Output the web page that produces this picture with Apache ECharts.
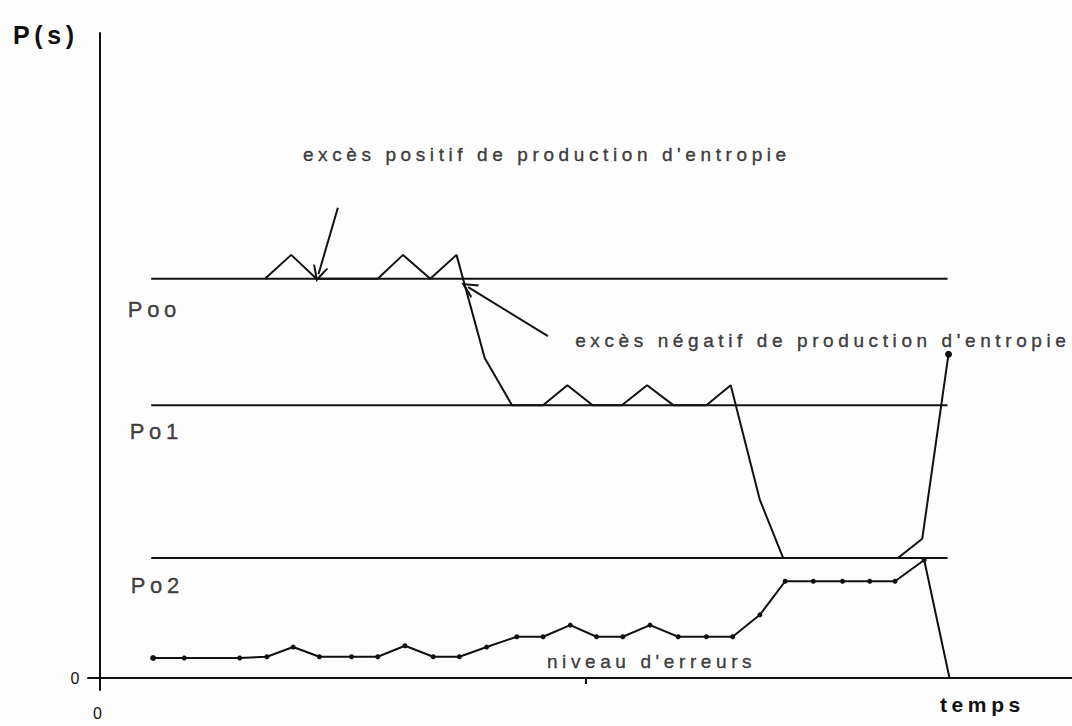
<!DOCTYPE html>
<html>
<head>
<meta charset="utf-8">
<title>P(s)</title>
<script src="https://cdn.jsdelivr.net/npm/echarts@6/dist/echarts.min.js"></script>
<style>
  html, body { margin: 0; padding: 0; background: #fff; }
  #chart { width: 1072px; height: 726px; }
  /* the scanned figure uses wide tracking on every text */
  #chart text { letter-spacing: 4.6px; }
</style>
</head>
<body>
<div id="chart"></div>
<script>
// reference levels
const levelNames = ["Poo", "Po1", "Po2"];
const levelValues = [61.9, 42.3, 18.6];
const levelStart = 5.3;
const levelEnd = 87.2;

// trajectory of P(s)
const pathX = [17.0, 19.7, 22.3, 28.6, 31.2, 34.0, 36.7, 39.6, 42.4, 45.6, 48.1, 50.7, 53.7, 56.3, 59.0, 62.4, 64.9, 67.9, 70.3, 82.1, 84.6, 87.3];
const pathY = [61.9, 65.6, 61.9, 61.9, 65.6, 61.9, 65.6, 49.6, 42.3, 42.3, 45.4, 42.3, 42.3, 45.4, 42.3, 42.3, 45.4, 27.6, 18.6, 18.6, 21.6, 50.2];

// niveau d'erreurs
const errX = [5.5, 8.7, 14.4, 17.2, 19.9, 22.6, 25.9, 28.6, 31.4, 34.3, 37.0, 39.8, 42.9, 45.6, 48.4, 51.1, 53.8, 56.6, 59.5, 62.4, 65.1, 67.9, 70.5, 73.4, 76.4, 79.2, 81.8, 84.8, 87.4];
const errY = [3.1, 3.1, 3.1, 3.3, 4.8, 3.3, 3.3, 3.3, 5.0, 3.3, 3.3, 4.8, 6.4, 6.4, 8.2, 6.4, 6.4, 8.2, 6.4, 6.4, 6.4, 9.8, 15.0, 15.0, 15.0, 15.0, 15.0, 18.3, 0];

// arrows [from, to]
const arrowPositif = [[24.5, 72.9], [22.5, 62.6]];
const arrowNegatif = [[46.1, 53.0], [37.9, 60.6]];

// annotation texts
const noteTexts = ["excès positif de production d'entropie", "excès négatif de production d'entropie", "niveau d'erreurs"];
const noteX = [20.9, 48.9, 46.0];
const noteY = [81.2, 52.3, 2.5];
const levelLabelX = [2.9, 3.1, 3.2];
const levelLabelY = [57.2, 38.2, 14.4];

const ink = "#111";
const font = "'Liberation Sans', Arial, sans-serif";

const chart = echarts.init(document.getElementById("chart"), null, { renderer: "svg" });

const levelSeries = levelValues.map((v, i) => ({
  name: levelNames[i],
  type: "line",
  data: [[levelStart, v], [levelEnd, v]],
  symbol: "none",
  lineStyle: { color: ink, width: 2 },
  silent: true,
}));

const pathData = pathX.map((x, i) => {
  const last = i === pathX.length - 1;
  return { value: [x, pathY[i]], symbol: last ? "circle" : "none", symbolSize: 7 };
});

const errData = errX.map((x, i) => {
  const last = i === errX.length - 1;
  return { value: [x, errY[i]], symbol: last ? "none" : "circle", symbolSize: i === 0 ? 6 : 5 };
});

const noteData = noteTexts.map((t, i) => ({
  value: [noteX[i], noteY[i]],
  name: t,
  label: { fontSize: 19 },
})).concat(levelNames.map((t, i) => ({
  value: [levelLabelX[i], levelLabelY[i]],
  name: t,
  label: { fontSize: 22 },
})));

const option = {
  backgroundColor: "#fdfdfd",
  animation: false,
  textStyle: { fontFamily: font, color: ink },
  grid: { left: 88, right: 0, top: 33, bottom: 36, containLabel: false, outerBoundsMode: "none" },
  xAxis: {
    type: "value",
    min: -1.2,
    max: 100,
    axisLine: { onZero: true, lineStyle: { color: ink, width: 2 } },
    axisTick: { show: true, customValues: [50], length: 6, lineStyle: { color: ink, width: 2 } },
    axisLabel: { customValues: [0], margin: 15, fontSize: 16, color: ink, fontFamily: font },
    splitLine: { show: false },
  },
  yAxis: {
    type: "value",
    min: -1.86,
    max: 100,
    axisLine: { onZero: true, lineStyle: { color: ink, width: 2 } },
    axisTick: { show: false },
    axisLabel: { customValues: [0], margin: 4, fontSize: 16, color: ink, fontFamily: font },
    splitLine: { show: false },
  },
  graphic: [
    { type: "text", left: 13, top: 22, style: { text: "P(s)", font: "bold 25px " + font, fill: ink } },
    { type: "text", left: 940, top: 694, style: { text: "temps", font: "bold 21px " + font, fill: ink } },
  ],
  series: levelSeries.concat([
    {
      name: "P(s)",
      type: "line",
      data: pathData,
      lineStyle: { color: ink, width: 2 },
      itemStyle: { color: ink },
      silent: true,
    },
    {
      name: "niveau d'erreurs",
      type: "line",
      data: errData,
      lineStyle: { color: ink, width: 2 },
      itemStyle: { color: ink },
      silent: true,
    },
    {
      name: "flèches",
      type: "lines",
      coordinateSystem: "cartesian2d",
      symbol: ["none", "path://M0,10 L5,0 L10,10 L8.6,10 L5,2.8 L1.4,10 Z"],
      symbolSize: [14, 16],
      lineStyle: { color: ink, width: 2, opacity: 1 },
      itemStyle: { color: ink },
      data: [{ coords: arrowPositif }, { coords: arrowNegatif }],
      silent: true,
    },
    {
      name: "notes",
      type: "scatter",
      symbolSize: 0,
      data: noteData,
      label: {
        show: true,
        position: "right",
        distance: 0,
        formatter: (p) => p.name,
        color: ink,
        fontFamily: font,
        textBorderColor: ink,
        textBorderWidth: 0.4,
      },
      silent: true,
    },
  ]),
};

chart.setOption(option);
</script>
</body>
</html>
